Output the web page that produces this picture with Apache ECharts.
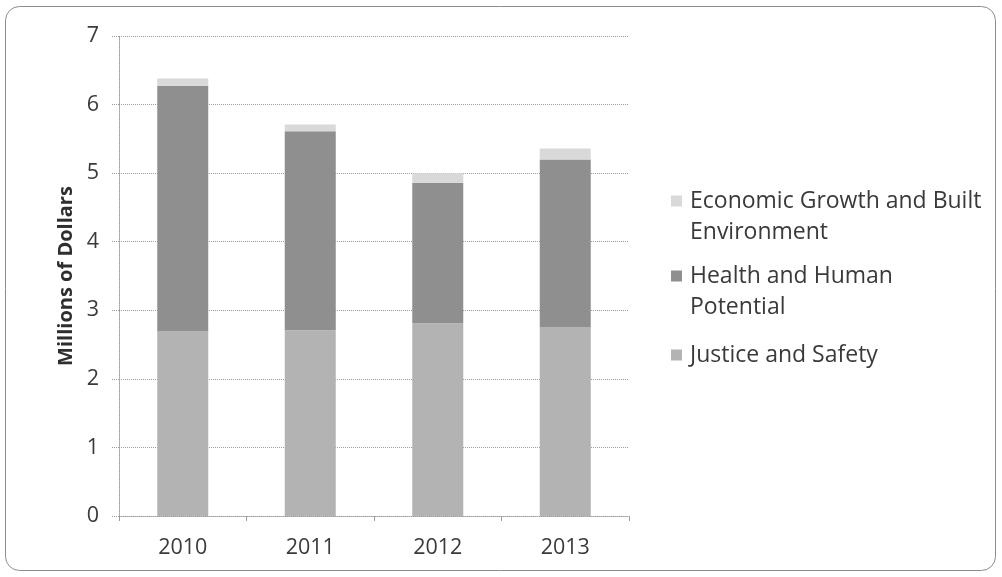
<!DOCTYPE html>
<html>
<head>
<meta charset="utf-8">
<script src="https://cdn.jsdelivr.net/npm/echarts@6/dist/echarts.min.js"></script>
<style>
  html, body { margin: 0; padding: 0; background: #fff; }
  #chart { width: 1002px; height: 577px; }
</style>
</head>
<body>
<div id="chart"></div>
<script>
// ---- data ----
const categories = ['2010', '2011', '2012', '2013'];
const justiceSafety = [2.69, 2.71, 2.81, 2.75];
const healthHuman = [3.58, 2.90, 2.05, 2.45];
const economicGrowth = [0.11, 0.10, 0.14, 0.16];
const seriesNames = ['Justice and Safety', 'Health and Human Potential', 'Economic Growth and Built Environment'];
const yTicks = [0, 1, 2, 3, 4, 5, 6, 7];
const yAxisTitle = 'Millions of Dollars';

const wrapped = {
  'Economic Growth and Built Environment': 'Economic Growth and Built\nEnvironment',
  'Health and Human Potential': 'Health and Human\nPotential',
  'Justice and Safety': 'Justice and Safety'
};

const FONT = 'Open Sans';
const textColor = '#3a3a3a';
const gridColor = '#9c9c9c';

const chart = echarts.init(document.getElementById('chart'), null, { renderer: 'canvas' });

// square on the first text line of a two-line legend entry (extra blank space to the right)
const twoLineIcon = 'path://M0,0H11V11H0Z M0,42L14,42';
const oneLineIcon = 'path://M0,0H11V11H0Z M14,11L14,11';

const legendText = { fontFamily: FONT, fontSize: 23, color: textColor, lineHeight: 31 };

chart.setOption({
  backgroundColor: '#ffffff',
  animation: false,
  textStyle: { fontFamily: FONT },
  graphic: [{
    type: 'rect',
    shape: { x: 5.5, y: 6.5, width: 990, height: 564, r: 14 },
    style: { fill: 'none', stroke: '#8c8c8c', lineWidth: 1 },
    z: -10
  }],
  grid: { left: 119, right: 373, top: 36, bottom: 61, containLabel: false },
  legend: [{
    data: [
      { name: seriesNames[2], icon: twoLineIcon },
      { name: seriesNames[1], icon: twoLineIcon }
    ],
    orient: 'vertical',
    left: 671,
    top: 185.5,
    padding: 0,
    itemWidth: 14,
    itemHeight: 42,
    itemGap: 13,
    formatter: n => wrapped[n],
    itemStyle: { borderWidth: 0 },
    textStyle: legendText,
    selectedMode: false
  }, {
    data: [{ name: seriesNames[0], icon: oneLineIcon }],
    orient: 'vertical',
    left: 671,
    top: 339.5,
    padding: 0,
    itemWidth: 14,
    itemHeight: 11,
    formatter: n => wrapped[n],
    itemStyle: { borderWidth: 0 },
    textStyle: legendText,
    selectedMode: false
  }],
  xAxis: {
    type: 'category',
    data: categories,
    axisLine: { show: true, lineStyle: { color: gridColor, type: 'dotted', width: 1 } },
    axisTick: { show: true, length: 5, lineStyle: { color: gridColor } },
    axisLabel: { fontFamily: FONT, fontSize: 21.5, color: textColor, margin: 21 }
  },
  yAxis: {
    type: 'value',
    min: yTicks[0],
    max: yTicks[yTicks.length - 1],
    interval: 1,
    name: yAxisTitle,
    nameLocation: 'middle',
    nameRotate: 90,
    nameGap: 42,
    nameTextStyle: { fontFamily: FONT, fontSize: 20, fontWeight: 'bold', color: '#2e2e2e' },
    axisLine: { show: true, lineStyle: { color: gridColor, type: 'dotted', width: 1 } },
    axisTick: { show: true, length: 8, lineStyle: { color: gridColor, type: 'dotted' } },
    axisLabel: { fontFamily: FONT, fontSize: 21.5, color: textColor, margin: 20 },
    splitLine: { show: true, lineStyle: { color: gridColor, type: 'dotted', width: 1 } }
  },
  series: [
    { name: seriesNames[0], type: 'bar', stack: 'total', data: justiceSafety, barWidth: '40%', itemStyle: { color: '#b3b3b3' } },
    { name: seriesNames[1], type: 'bar', stack: 'total', data: healthHuman, barWidth: '40%', itemStyle: { color: '#8f8f8f' } },
    { name: seriesNames[2], type: 'bar', stack: 'total', data: economicGrowth, barWidth: '40%', itemStyle: { color: '#d9d9d9' } }
  ]
});
</script>
</body>
</html>
